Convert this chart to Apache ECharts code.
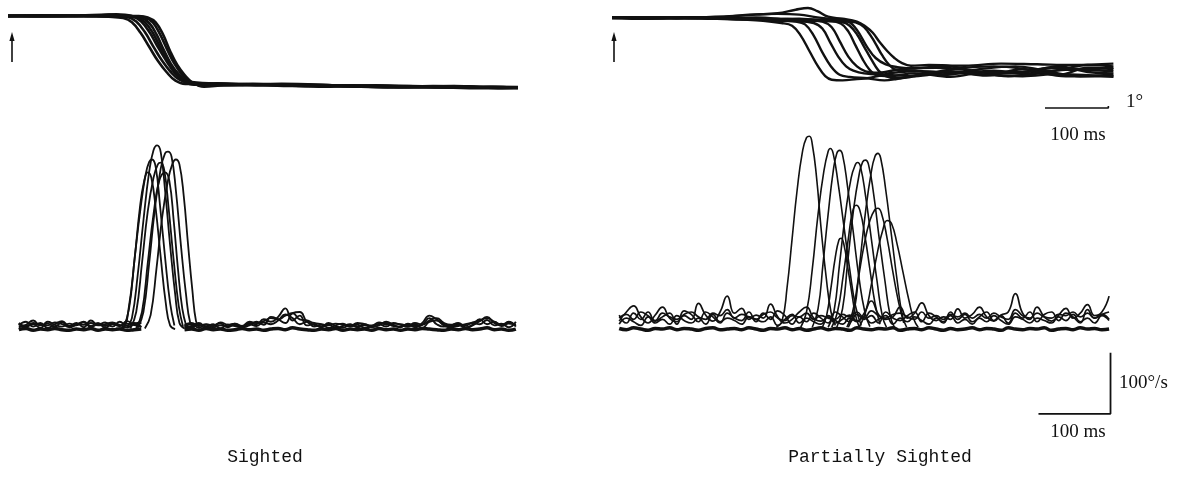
<!DOCTYPE html>
<html>
<head>
<meta charset="utf-8">
<script src="https://cdn.jsdelivr.net/npm/echarts@6/dist/echarts.min.js"></script>
<style>html,body{margin:0;padding:0;background:#fff}#c{width:1195px;height:480px}</style>
</head>
<body>
<div id="c"></div>
<script>
// ---------- DATA (time in ms, position in degrees, velocity in deg/s) ----------
const panelTitles = ['Sighted', 'Partially Sighted'];
const scaleLabels = {timeTop: '100 ms', deg: '1°', vel: '100°/s', timeBottom: '100 ms'};

// Sighted – eye position traces
const sPos1 = [[0,0.02],[50,0.05],[100,0.0],[140,-0.05],[160,-0.15],[172,-0.45],[184,-1.2],[196,-2.2],[208,-3.2],[220,-4.0],[232,-4.6],[246,-4.85],[270,-4.85],[330,-4.9],[400,-4.95],[470,-5.0],[540,-5.05],[610,-5.05],[670,-5.1],[708,-5.1]];
const sPos2 = [[0,0],[50,0.02],[100,0.05],[140,0.1],[165,-0.05],[178,-0.4],[190,-1.15],[202,-2.2],[214,-3.2],[226,-4.0],[238,-4.55],[252,-4.8],[280,-4.9],[340,-4.85],[410,-5.0],[480,-4.95],[550,-5.1],[620,-5.0],[680,-5.15],[708,-5.12]];
const sPos3 = [[0,-0.03],[60,0.0],[110,-0.02],[150,0.12],[172,0.0],[185,-0.4],[197,-1.2],[209,-2.3],[221,-3.3],[232,-4.1],[243,-4.6],[258,-4.9],[290,-4.8],[350,-4.95],[420,-4.9],[490,-5.05],[560,-5.0],[630,-5.1],[708,-5.08]];
const sPos4 = [[0,0.03],[60,-0.02],[120,0.02],[160,0.0],[178,-0.1],[190,-0.45],[201,-1.2],[212,-2.3],[223,-3.3],[234,-4.1],[246,-4.6],[262,-4.75],[300,-4.85],[370,-4.9],[440,-5.05],[510,-4.95],[580,-5.05],[650,-5.15],[708,-5.15]];
const sPos5 = [[0,0],[70,0.03],[130,-0.03],[170,-0.05],[184,-0.12],[196,-0.5],[206,-1.3],[216,-2.4],[226,-3.4],[237,-4.15],[249,-4.65],[265,-4.9],[310,-4.95],[380,-4.85],[450,-4.95],[520,-5.1],[590,-5.0],[660,-5.05],[708,-5.1]];
const sPos6 = [[0,0.02],[70,-0.02],[140,0.05],[175,-0.02],[190,-0.1],[201,-0.45],[211,-1.3],[221,-2.4],[231,-3.4],[242,-4.2],[253,-4.7],[268,-4.95],[320,-4.9],[390,-5.0],[460,-4.95],[530,-5.0],[600,-5.1],[670,-5.05],[708,-5.14]];
const sPos7 = [[0,-0.02],[80,0.0],[150,0.02],[180,0.0],[194,-0.1],[205,-0.45],[215,-1.3],[225,-2.5],[235,-3.5],[245,-4.2],[256,-4.75],[272,-5.05],[300,-4.95],[360,-4.9],[430,-5.0],[500,-5.05],[570,-5.1],[640,-5.1],[708,-5.12]];

// Sighted – eye velocity traces (saccades)
const sVel1 = [[150,3],[160,5],[168,40],[176,120],[183,200],[189,245],[194,259],[199,250],[205,200],[212,120],[219,45],[225,8],[232,2]];
const sVel2 = [[165,4],[172,20],[180,90],[188,180],[196,260],[202,295],[207,303],[212,292],[218,230],[225,140],[232,60],[238,12],[245,3]];
const sVel3 = [[178,3],[186,30],[194,110],[202,190],[210,245],[218,259],[224,245],[230,180],[236,100],[242,35],[248,5]];
const sVel4 = [[180,4],[188,30],[196,110],[204,200],[212,265],[218,290],[222,293],[227,285],[233,230],[240,140],[247,60],[253,12],[259,3]];
const sVel5 = [[190,3],[198,25],[206,100],[214,185],[222,245],[228,272],[233,280],[238,272],[244,220],[250,140],[256,65],[261,15],[266,3]];
const sVel6 = [[170,3],[178,30],[186,110],[194,195],[202,250],[208,272],[212,275],[217,262],[223,200],[230,115],[237,40],[243,6]];
const sVel7 = [[160,3],[168,35],[176,120],[184,200],[191,255],[196,276],[200,280],[205,268],[211,205],[218,120],[225,45],[231,8]];

// Sighted – baseline velocity noise, sampled every 10 ms from 15 ms
const sNoiseStart = 15, sNoiseStep = 10;
const sNoiseA = [8,14,6,12,4,10,15,7,12,5,16,9,13,6,14,8,12,5,null,null,null,null,null,6,10,4,9,5,8,6,11,4,12,10,18,14,22,36,16,24,8,10,5,9,4,7,10,5,8,6,11,12,7,6,9,5,12,24,18,10,6,9,4,8,15,22,12,8,14,6];
const sNoiseB = [5,9,16,8,11,6,13,5,9,14,7,12,4,10,7,15,9,6,null,null,null,null,null,4,7,12,6,10,3,9,7,5,8,14,9,22,18,12,28,30,14,9,6,12,7,4,9,6,10,5,8,14,9,5,11,7,9,20,10,6,8,12,5,9,18,10,14,7,11,9];
const sNoiseC = [12,6,10,4,14,9,6,11,8,13,5,10,7,12,9,5,10,14,null,null,null,null,null,8,5,9,3,7,11,5,9,6,10,7,13,10,16,26,20,10,14,6,9,4,8,11,6,9,4,7,10,6,12,9,6,10,4,14,16,8,5,7,10,12,10,17,8,11,5,14];
const sNoiseE = [10,7,12,9,8,13,10,6,11,9,12,8,10,13,7,11,9,12,null,null,null,null,null,9,12,7,10,8,13,9,11,7,14,12,15,20,18,24,28,18,16,12,10,8,11,9,7,12,10,8,13,9,11,10,8,12,9,16,20,12,9,11,8,13,16,20,14,10,12,9];
const sNoiseD = [1,3,0,2,1,3,1,0,2,1,3,0,2,1,2,0,1,2,null,null,null,null,null,1,2,0,3,1,2,0,1,3,1,2,0,2,3,1,4,2,1,0,2,1,3,0,2,1,2,0,3,1,2,0,2,1,3,2,1,0,2,1,3,1,2,4,1,2,0,2];

// Partially sighted – eye position traces
const pPos1 = [[0,-0.1],[40,-0.12],[80,-0.15],[120,-0.1],[160,-0.2],[200,-0.3],[235,-0.5],[250,-0.7],[262,-1.4],[274,-2.5],[286,-3.6],[296,-4.3],[305,-4.55],[320,-4.6],[340,-4.5],[354,-4.45],[372,-4.25],[390,-4.05],[430,-3.95],[480,-4.1],[530,-3.9],[580,-4.15],[630,-3.85],[696,-3.95]];
const pPos2 = [[0,-0.15],[50,-0.1],[100,-0.18],[150,-0.12],[200,-0.2],[250,-0.35],[280,-0.5],[292,-0.9],[303,-1.9],[314,-2.9],[325,-3.6],[335,-3.9],[350,-4.1],[380,-4.2],[420,-4.3],[470,-4.0],[520,-4.25],[570,-3.8],[620,-4.2],[660,-3.7],[696,-3.8]];
const pPos3 = [[0,-0.12],[60,-0.15],[110,-0.08],[160,-0.18],[210,-0.25],[260,-0.2],[292,-0.4],[305,-0.8],[316,-1.8],[328,-2.9],[340,-3.6],[352,-3.95],[370,-4.05],[400,-3.8],[450,-3.7],[500,-3.9],[550,-4.3],[600,-4.0],[650,-4.3],[696,-4.2]];
const pPos4 = [[0,-0.13],[50,-0.17],[100,-0.12],[150,-0.16],[200,-0.1],[250,-0.3],[300,-0.35],[318,-0.55],[328,-1.1],[338,-2.1],[348,-3.1],[357,-3.8],[366,-4.2],[385,-4.3],[420,-4.1],[470,-4.35],[520,-4.0],[570,-4.0],[620,-3.6],[660,-4.0],[696,-4.1]];
const pPos5 = [[0,-0.14],[70,-0.1],[140,-0.2],[190,-0.15],[240,-0.35],[280,-0.25],[320,-0.45],[330,-0.7],[340,-1.3],[350,-2.2],[360,-3.1],[370,-3.9],[380,-4.3],[395,-4.45],[430,-4.2],[480,-3.75],[530,-3.6],[580,-3.85],[630,-4.3],[696,-4.3]];
const pPos6 = [[0,-0.12],[60,-0.1],[120,-0.14],[180,-0.25],[230,-0.2],[280,-0.35],[330,-0.4],[345,-0.6],[355,-1.1],[365,-1.9],[375,-2.8],[385,-3.5],[395,-3.85],[420,-3.9],[460,-4.2],[510,-3.8],[560,-3.6],[610,-3.9],[660,-3.5],[696,-3.6]];
const pPos7 = [[0,-0.1],[60,-0.14],[120,-0.1],[170,0.0],[200,0.1],[230,0.2],[255,0.45],[272,0.57],[285,0.35],[300,-0.05],[320,-0.2],[340,-0.4],[352,-0.75],[362,-1.2],[372,-1.9],[382,-2.5],[392,-3.0],[402,-3.35],[415,-3.55],[440,-3.5],[490,-3.55],[540,-3.4],[590,-3.45],[640,-3.5],[696,-3.4]];
const pPos8 = [[0,-0.14],[50,-0.2],[100,-0.15],[150,-0.1],[190,0.1],[230,0.15],[260,0.1],[285,-0.1],[310,-0.25],[328,-0.4],[340,-1.0],[354,-2.2],[366,-3.0],[380,-3.45],[396,-3.65],[420,-3.75],[460,-3.55],[510,-4.0],[560,-4.1],[610,-3.7],[660,-3.8],[696,-3.7]];
const pPos9 = [[0,-0.1],[60,-0.08],[110,-0.12],[170,-0.18],[220,-0.3],[255,-0.4],[268,-0.6],[280,-1.4],[292,-2.6],[304,-3.6],[316,-4.2],[330,-4.35],[355,-4.45],[378,-4.6],[395,-4.5],[420,-4.25],[470,-3.95],[520,-4.2],[570,-4.3],[620,-4.15],[696,-4.35]];

// Partially sighted – eye velocity traces (saccades)
const pVel1 = [[228,5],[236,15],[243,70],[250,150],[257,230],[264,290],[270,316],[274,318],[278,305],[284,250],[290,170],[297,90],[304,30],[310,8]];
const pVel2 = [[262,5],[270,30],[278,100],[286,190],[294,260],[300,293],[303,298],[307,290],[314,240],[322,170],[330,100],[338,40],[346,8]];
const pVel3 = [[278,5],[286,35],[293,110],[300,190],[307,260],[312,290],[316,295],[320,288],[327,235],[335,160],[343,85],[351,30],[358,6]];
const pVel4 = [[300,5],[308,30],[316,110],[324,190],[332,250],[338,272],[341,275],[345,268],[352,220],[360,150],[368,80],[375,25],[381,5]];
const pVel5 = [[312,5],[320,35],[327,110],[335,195],[343,255],[348,276],[352,279],[356,272],[363,225],[371,150],[379,80],[386,25],[392,5]];
const pVel6 = [[328,5],[336,30],[344,110],[352,195],[360,260],[365,285],[369,290],[373,282],[380,230],[388,155],[396,80],[403,25],[409,5]];
const pVel7 = [[305,5],[313,30],[321,90],[328,150],[334,195],[339,205],[344,197],[351,155],[358,100],[365,45],[372,10]];
const pVel8 = [[326,5],[334,30],[342,85],[350,140],[358,180],[365,198],[369,200],[374,192],[382,150],[390,95],[398,45],[405,12]];
const pVel9 = [[343,5],[352,30],[360,75],[368,125],[376,165],[382,180],[388,175],[396,140],[404,95],[412,50],[419,18],[425,5]];
const pVel10 = [[292,5],[298,25],[304,70],[310,120],[315,148],[318,151],[322,140],[327,105],[333,60],[338,25],[343,6]];

// Partially sighted – baseline velocity noise, sampled every 10 ms from 10 ms
const pNoiseStart = 10, pNoiseStep = 10;
const pNoiseA = [15,30,40,22,12,25,38,20,14,24,18,44,25,15,30,56,28,36,18,25,20,43,22,12,18,30,38,20,15,22,12,18,25,15,28,48,26,18,22,38,20,28,45,24,16,22,18,35,20,26,38,22,15,25,30,60,28,18,38,22,15,25,36,20,28,42,24,30,56];
const pNoiseB = [25,12,28,18,30,15,22,28,10,32,26,14,30,22,12,28,20,16,30,14,28,18,32,24,10,22,14,28,20,12,30,22,14,26,18,24,12,30,20,16,24,30,14,28,22,12,30,18,26,14,22,30,16,24,12,28,20,30,14,26,30,16,28,22,12,34,20,26,18];
const pNoiseC = [10,20,14,8,22,12,18,10,24,16,12,20,10,26,14,20,16,10,22,18,14,22,8,18,26,12,20,14,10,24,16,10,20,14,22,12,18,24,10,20,14,22,16,10,20,14,24,12,18,10,20,14,24,16,10,22,18,12,20,16,12,22,16,26,14,20,12,24,16];
const pNoiseE = [20,26,18,30,24,16,28,22,18,26,30,22,18,28,24,34,20,26,22,18,26,30,20,16,24,22,28,18,24,20,18,26,22,30,20,32,24,20,26,28,22,18,30,20,24,18,26,22,28,20,26,20,28,22,18,34,24,20,28,22,20,26,24,30,22,28,20,26,30];
const pNoiseD = [3,1,4,2,0,3,2,4,1,3,2,0,3,4,1,2,3,1,4,2,0,3,2,4,1,3,0,2,4,1,3,2,0,4,2,1,3,2,4,0,2,3,1,4,2,0,3,1,2,4,1,3,2,0,4,2,1,3,2,4,0,2,3,1,4,2,3,1,2];

// Calibration bars (data units)
const posBarMs = [601, 689], posBarDeg = -6.57;
const velBarMs = [592, 692], velBarLevel = -137, velBarTop = -37;

// ---------- CHART ----------
const INK = '#111';
function noiseSeries(vals, start, step) {
  return vals.map((v, i) => [start + i * step, v]);
}
function line(data, xi, w, smooth) {
  return {type: 'line', xAxisIndex: xi, yAxisIndex: xi, data: data, showSymbol: false, symbol: 'none',
    smooth: smooth === undefined ? 0.5 : smooth, connectNulls: false, silent: true,
    lineStyle: {color: INK, width: w}};
}
const series = [];
[sPos1,sPos2,sPos3,sPos4,sPos5,sPos6,sPos7].forEach(d => series.push(line(d, 0, 2.6, 0.4)));
[sNoiseA,sNoiseB,sNoiseC,sNoiseE].forEach(v => series.push(line(noiseSeries(v, sNoiseStart, sNoiseStep), 1, 1.9)));
series.push(line(noiseSeries(sNoiseD, sNoiseStart, sNoiseStep), 1, 3.5));
[sVel1,sVel2,sVel3,sVel4,sVel5,sVel6,sVel7].forEach(d => series.push(line(d, 1, 1.8, 0.45)));
[pPos1,pPos2,pPos3,pPos4,pPos5,pPos6,pPos7,pPos8,pPos9].forEach(d => series.push(line(d, 2, 2.4, 0.4)));
[pNoiseA,pNoiseB,pNoiseC,pNoiseE].forEach(v => series.push(line(noiseSeries(v, pNoiseStart, pNoiseStep), 3, 1.7)));
series.push(line(noiseSeries(pNoiseD, pNoiseStart, pNoiseStep), 3, 3.5));
[pVel1,pVel2,pVel3,pVel4,pVel5,pVel6,pVel7,pVel8,pVel9,pVel10].forEach(d => series.push(line(d, 3, 1.6, 0.5)));
// calibration bars
series.push(line([[posBarMs[0], posBarDeg],[posBarMs[1], posBarDeg],[posBarMs[1], posBarDeg + 0.15]], 2, 1.6, false));
series.push(line([[velBarMs[0], velBarLevel],[velBarMs[1], velBarLevel],[velBarMs[1], velBarTop]], 3, 1.8, false));

const grids = [
  {left: 8, top: 2, width: 510, height: 112},
  {left: 8, top: 129, width: 510, height: 286.7},
  {left: 612, top: 2, width: 505, height: 112},
  {left: 612, top: 129, width: 505, height: 286.7}
];
const xAxes = [708, 708, 701, 701].map((mx, i) => ({type: 'value', gridIndex: i, min: 0, max: mx, show: false}));
const yAxes = [[-7, 1], [-140, 330], [-7, 1], [-140, 330]].map((r, i) => ({type: 'value', gridIndex: i, min: r[0], max: r[1], show: false}));

function arrow(x) {
  return {type: 'group', children: [
    {type: 'line', shape: {x1: x, y1: 62, x2: x, y2: 38}, style: {stroke: INK, lineWidth: 1.6}},
    {type: 'polygon', shape: {points: [[x, 32], [x - 2.6, 41], [x + 2.6, 41]]}, style: {fill: INK}}
  ]};
}
function txt(s, x, y, align, size, family) {
  return {type: 'text', x: x, y: y, style: {text: s, fill: INK, font: size + 'px ' + family, textAlign: align, textVerticalAlign: 'middle'}};
}
const serif = '"Liberation Serif", "DejaVu Serif", serif';
const mono = '"Liberation Mono", "DejaVu Sans Mono", monospace';

const chart = echarts.init(document.getElementById('c'), null, {renderer: 'canvas'});
chart.setOption({
  animation: false,
  backgroundColor: '#fff',
  grid: grids,
  xAxis: xAxes,
  yAxis: yAxes,
  series: series,
  graphic: [
    arrow(12), arrow(614),
    txt(scaleLabels.deg, 1126, 102, 'left', 19, serif),
    txt(scaleLabels.timeTop, 1078, 135, 'center', 19, serif),
    txt(scaleLabels.vel, 1119, 383, 'left', 19, serif),
    txt(scaleLabels.timeBottom, 1078, 432, 'center', 19, serif),
    txt(panelTitles[0], 265, 457, 'center', 18, mono),
    txt(panelTitles[1], 880, 457, 'center', 18, mono)
  ]
});
</script>
</body>
</html>
